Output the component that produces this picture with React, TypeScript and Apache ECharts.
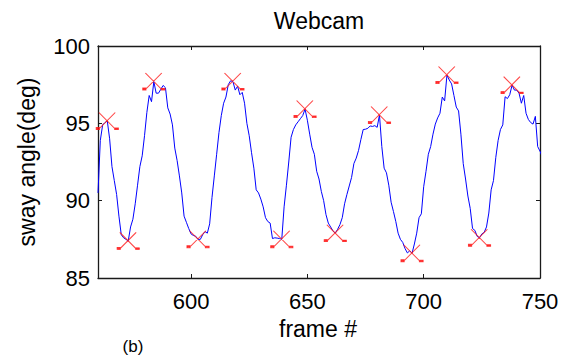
import React, { useEffect, useRef } from "react";
import * as echarts from "echarts";

// Sway angle trace: one sample per frame starting at firstFrame
const firstFrame = 560;
const swayAngle = [
  90.5, 93.9, 94.9, 95.05, 95.15, 94.0, 92.2, 91.3, 90.4, 89.0,
  87.8, 87.6, 87.5, 87.4, 88.3, 88.8, 89.8, 91.0, 92.2, 92.9,
  94.2, 95.7, 96.8, 96.4, 97.7, 96.95, 96.95, 97.2, 97.45, 97.3,
  96.0, 95.6, 94.9, 93.4, 92.6, 91.6, 90.5, 89.0, 88.6, 88.2,
  87.85, 87.75, 87.7, 87.5, 87.5, 87.8, 88.0, 87.9, 88.5, 90.2,
  91.6, 93.0, 94.4, 95.5, 96.3, 96.7, 97.5, 97.75, 97.7, 97.15,
  97.4, 96.85, 97.0, 96.3, 95.0, 94.2, 93.1, 92.1, 90.7, 90.5,
  90.1, 89.6, 88.9, 88.65, 88.55, 87.55, 87.6, 87.58, 87.55, 87.5,
  89.6, 91.0, 92.5, 94.1, 94.6, 94.9, 95.1, 95.3, 95.5, 95.92,
  95.2, 94.3, 93.45, 93.0, 91.9, 91.4, 90.6, 90.0, 89.1, 88.55,
  88.3, 88.05, 87.9, 88.15, 88.45, 88.9, 89.8, 90.4, 90.95, 91.5,
  92.4, 92.75, 93.25, 93.95, 94.6, 94.62, 94.68, 94.83, 94.8, 94.85,
  94.74, 95.54, 93.5, 92.1, 91.8, 91.0, 89.9, 89.3, 88.66, 87.9,
  87.5, 87.3, 86.9, 86.62, 86.76, 86.6, 87.2, 87.9, 88.9, 89.15,
  90.9, 91.9, 93.0, 93.5, 94.3, 94.95, 95.35, 95.65, 96.7, 96.45,
  98.12, 97.8, 97.55, 96.8, 96.05, 95.8, 94.3, 92.4, 91.4, 90.3,
  89.5, 88.2, 88.08, 87.69, 87.6, 87.85, 87.95, 88.3, 89.2, 90.7,
  91.3, 92.8, 93.9, 94.6, 94.9, 96.72, 96.6, 96.85, 97.47, 97.15,
  97.15, 96.94, 96.3, 96.8, 95.65, 95.25, 95.05, 94.95, 95.45, 93.5,
  93.2, 92.8,
];

// Frames detected as local peaks / troughs
const extremaFrames = [564, 573, 584, 603, 618, 639, 649, 662, 681, 695, 710, 724, 738];

const xTicks = [600, 650, 700, 750];
const xRange = [560, 750];
const yRange = [85, 100];
const yStep = 5;

const FONT = "'Liberation Sans', Arial, Helvetica, sans-serif";

// "x" marker with the small blobs at its lower ends
const crossSymbol =
  "path://M3,0L19,16M19,0L3,16M0.5,14.5L3.5,14.5L3.5,16.5L0.5,16.5ZM18.5,15L22,15L22,16.5L18.5,16.5Z";

export default function App() {
  const ref = useRef<HTMLDivElement>(null);

  useEffect(() => {
    if (!ref.current) return;
    const chart = echarts.init(ref.current, null, { renderer: "svg" });

    const lineData = swayAngle.map((v, i) => [firstFrame + i, v]);
    const extremaData = extremaFrames.map((f) => [f, swayAngle[f - firstFrame]]);

    const axisLine = { show: true, onZero: false, lineStyle: { color: "#1a1a1a", width: 1.3 } };
    const tickStyle = { color: "#1a1a1a", width: 1 };

    chart.setOption({
      animation: false,
      backgroundColor: "#ffffff",
      grid: { left: 98, top: 46, width: 442, height: 232, containLabel: false },
      xAxis: [
        {
          type: "value",
          position: "bottom",
          min: xRange[0],
          max: xRange[1],
          axisLine,
          axisTick: { show: true, inside: true, length: 4, lineStyle: tickStyle, customValues: xTicks },
          axisLabel: {
            show: true,
            customValues: xTicks,
            color: "#000",
            fontFamily: FONT,
            fontSize: 22,
            margin: 12,
          },
          splitLine: { show: false },
        },
        {
          type: "value",
          position: "top",
          min: xRange[0],
          max: xRange[1],
          axisLine,
          axisTick: { show: true, inside: true, length: 4, lineStyle: tickStyle, customValues: xTicks },
          axisLabel: { show: false },
          splitLine: { show: false },
        },
      ],
      yAxis: [
        {
          type: "value",
          position: "left",
          min: yRange[0],
          max: yRange[1],
          interval: yStep,
          axisLine,
          axisTick: { show: true, inside: true, length: 4, lineStyle: tickStyle },
          axisLabel: { color: "#000", fontFamily: FONT, fontSize: 22, margin: 8 },
          splitLine: { show: false },
          name: "sway angle(deg)",
          nameLocation: "middle",
          nameGap: 60,
          nameTextStyle: { color: "#000", fontFamily: FONT, fontSize: 23 },
        },
        {
          type: "value",
          position: "right",
          min: yRange[0],
          max: yRange[1],
          interval: yStep,
          axisLine,
          axisTick: { show: true, inside: true, length: 4, lineStyle: tickStyle },
          axisLabel: { show: false },
          splitLine: { show: false },
        },
      ],
      series: [
        {
          type: "line",
          xAxisIndex: 0,
          yAxisIndex: 0,
          data: lineData,
          showSymbol: false,
          lineStyle: { color: "#0000ff", width: 1 },
          z: 2,
        },
        {
          type: "scatter",
          xAxisIndex: 0,
          yAxisIndex: 0,
          data: extremaData,
          symbol: crossSymbol,
          symbolSize: [22, 17],
          itemStyle: { color: "#ff0000", borderColor: "#ff1a1a", borderWidth: 1 },
          z: 3,
        },
      ],
      graphic: [
        {
          type: "text",
          x: 319,
          y: 21,
          style: {
            text: "Webcam",
            fill: "#000",
            font: `23px ${FONT}`,
            textAlign: "center",
            textVerticalAlign: "middle",
          },
        },
        {
          type: "text",
          x: 318,
          y: 329,
          style: {
            text: "frame #",
            fill: "#000",
            font: `23px ${FONT}`,
            textAlign: "center",
            textVerticalAlign: "middle",
          },
        },
        {
          type: "text",
          x: 133,
          y: 346,
          style: {
            text: "(b)",
            fill: "#000",
            font: `17px ${FONT}`,
            textAlign: "center",
            textVerticalAlign: "middle",
          },
        },
      ],
    });

    return () => chart.dispose();
  }, []);

  return (
    <div
      ref={ref}
      style={{ position: "fixed", left: 0, top: 0, width: 574, height: 358, background: "#fff" }}
    />
  );
}
